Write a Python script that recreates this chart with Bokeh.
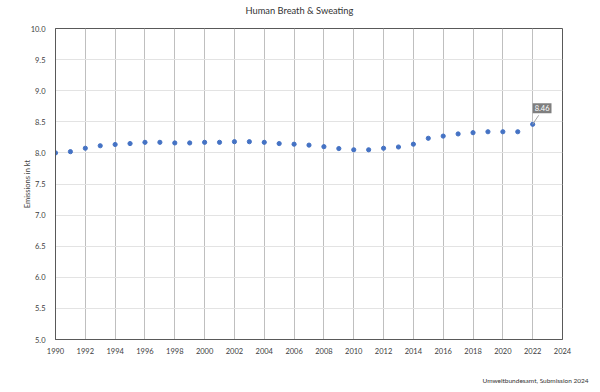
from bokeh.plotting import figure
from bokeh.models import Range1d, FixedTicker, Label, ColumnDataSource, CustomJSTickFormatter, Title
from bokeh.embed import file_html
from bokeh.resources import INLINE

years = list(range(1990, 2023))
emissions = [8.00, 8.02, 8.075, 8.115, 8.135, 8.15, 8.17, 8.17, 8.16, 8.16,
             8.17, 8.17, 8.18, 8.18, 8.17, 8.15, 8.14, 8.125, 8.10, 8.07,
             8.05, 8.05, 8.075, 8.095, 8.14, 8.235, 8.27, 8.305, 8.325, 8.34,
             8.34, 8.34, 8.46]
x_ticks = list(range(1990, 2025, 2))
y_ticks = [5.0, 5.5, 6.0, 6.5, 7.0, 7.5, 8.0, 8.5, 9.0, 9.5, 10.0]
title_text = "Human Breath & Sweating"
y_label = "Emissions in kt"
source_text = "Umweltbundesamt, Submission 2024"
last_label = "8.46"

FONT = "Lato"
W, H = 592, 388
ML, MR, MT, MB = 55, 30, 28, 49
FW, FH = W - ML - MR, H - MT - MB

p = figure(width=W, height=H, output_backend="svg", toolbar_location=None,
           x_range=Range1d(1990, 2024), y_range=Range1d(5, 10),
           min_border_left=ML, min_border_right=MR, min_border_top=MT,
           min_border_bottom=MB, background_fill_color="white",
           border_fill_color="white")

p.outline_line_color = "#595959"
p.outline_line_width = 1

p.xaxis.ticker = FixedTicker(ticks=x_ticks)
p.yaxis.ticker = FixedTicker(ticks=y_ticks)
p.yaxis.formatter = CustomJSTickFormatter(code="return tick.toFixed(1);")

for ax in (p.xaxis, p.yaxis):
    ax.axis_line_color = "#595959"
    ax.axis_line_width = 1
    ax.major_tick_line_color = None
    ax.minor_tick_line_color = None
    ax.major_label_text_font = FONT
    ax.major_label_text_font_size = "7.5px"
    ax.major_label_text_color = "#404040"
p.xaxis.major_label_standoff = 2
p.yaxis.major_label_standoff = 4

p.yaxis.axis_label = y_label
p.yaxis.axis_label_text_font = FONT
p.yaxis.axis_label_text_font_size = "7.5px"
p.yaxis.axis_label_text_font_style = "normal"
p.yaxis.axis_label_text_color = "#404040"
p.yaxis.axis_label_standoff = -4

p.xgrid.grid_line_color = "#bfbfbf"
p.xgrid.grid_line_width = 1
p.ygrid.grid_line_color = "#e3e3e3"
p.ygrid.grid_line_width = 1

src = ColumnDataSource(dict(x=years, y=emissions))
p.scatter("x", "y", source=src, size=4.2, color="#4472C4", line_color="#4472C4")

# data label for the last point with a short leader line
px_per_x = FW / (2024 - 1990)
px_per_y = FH / (10 - 5)
lx, ly = years[-1], emissions[-1]
p.segment(x0=[lx], y0=[ly], x1=[lx + 6 / px_per_x], y1=[ly + 9 / px_per_y],
          line_color="#a6a6a6", line_width=1)
p.add_layout(Label(x=lx, y=ly, x_offset=0, y_offset=11, text=last_label,
                   text_font=FONT, text_font_size="7.5px", text_color="white",
                   text_align="left", text_baseline="bottom",
                   background_fill_color="#7f7f7f", padding=2))

# title (with a spacer between it and the frame) and source note
p.title.text = ""
p.add_layout(Title(text=" ", text_font_size="1px", standoff=10), "above")
p.add_layout(Title(text=title_text, align="left", offset=190, text_font=FONT,
                   text_font_size="9.3px", text_font_style="normal",
                   text_color="#333333", standoff=0), "above")

p.add_layout(Title(text=" ", text_font_size="1px", standoff=14), "below")
p.add_layout(Title(text=source_text, align="right", text_font=FONT,
                   text_font_size="6.5px", text_font_style="normal",
                   text_color="#333333", standoff=2, offset=-26), "below")

open("out.html", "w").write(file_html(p, INLINE))
